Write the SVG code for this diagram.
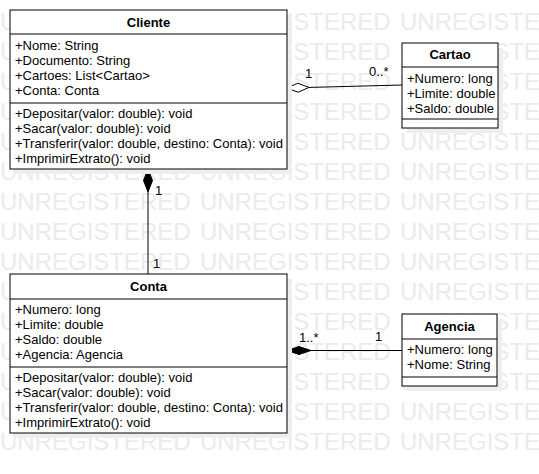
<svg xmlns="http://www.w3.org/2000/svg" width="539" height="474" viewBox="0 0 539 474">
<defs>
<style>
.wm{font-family:"Liberation Sans",Arial,sans-serif;font-size:24px;fill:#ebebeb}
.t{font-family:"Liberation Sans",Arial,sans-serif;font-size:13px;fill:#000}
.h{font-family:"Liberation Sans",Arial,sans-serif;font-size:13px;font-weight:bold;fill:#000;text-anchor:middle}
.box{fill:#fff;stroke:#000;stroke-width:1}
.sh{fill:#eeeeee}
.div{stroke:#000;stroke-width:1}
.ln{stroke:#000;stroke-width:1;fill:none}
</style>
</defs>
<rect width="539" height="474" fill="#fff"/>
<g id="watermark">
<text class="wm" x="0" y="30">UNREGISTERED</text><text class="wm" x="200" y="30">UNREGISTERED</text><text class="wm" x="400" y="30">UNREGISTERED</text>
<text class="wm" x="0" y="60">UNREGISTERED</text><text class="wm" x="200" y="60">UNREGISTERED</text><text class="wm" x="400" y="60">UNREGISTERED</text>
<text class="wm" x="0" y="90">UNREGISTERED</text><text class="wm" x="200" y="90">UNREGISTERED</text><text class="wm" x="400" y="90">UNREGISTERED</text>
<text class="wm" x="0" y="120">UNREGISTERED</text><text class="wm" x="200" y="120">UNREGISTERED</text><text class="wm" x="400" y="120">UNREGISTERED</text>
<text class="wm" x="0" y="150">UNREGISTERED</text><text class="wm" x="200" y="150">UNREGISTERED</text><text class="wm" x="400" y="150">UNREGISTERED</text>
<text class="wm" x="0" y="180">UNREGISTERED</text><text class="wm" x="200" y="180">UNREGISTERED</text><text class="wm" x="400" y="180">UNREGISTERED</text>
<text class="wm" x="0" y="210">UNREGISTERED</text><text class="wm" x="200" y="210">UNREGISTERED</text><text class="wm" x="400" y="210">UNREGISTERED</text>
<text class="wm" x="0" y="240">UNREGISTERED</text><text class="wm" x="200" y="240">UNREGISTERED</text><text class="wm" x="400" y="240">UNREGISTERED</text>
<text class="wm" x="0" y="270">UNREGISTERED</text><text class="wm" x="200" y="270">UNREGISTERED</text><text class="wm" x="400" y="270">UNREGISTERED</text>
<text class="wm" x="0" y="300">UNREGISTERED</text><text class="wm" x="200" y="300">UNREGISTERED</text><text class="wm" x="400" y="300">UNREGISTERED</text>
<text class="wm" x="0" y="330">UNREGISTERED</text><text class="wm" x="200" y="330">UNREGISTERED</text><text class="wm" x="400" y="330">UNREGISTERED</text>
<text class="wm" x="0" y="360">UNREGISTERED</text><text class="wm" x="200" y="360">UNREGISTERED</text><text class="wm" x="400" y="360">UNREGISTERED</text>
<text class="wm" x="0" y="390">UNREGISTERED</text><text class="wm" x="200" y="390">UNREGISTERED</text><text class="wm" x="400" y="390">UNREGISTERED</text>
<text class="wm" x="0" y="420">UNREGISTERED</text><text class="wm" x="200" y="420">UNREGISTERED</text><text class="wm" x="400" y="420">UNREGISTERED</text>
<text class="wm" x="0" y="450">UNREGISTERED</text><text class="wm" x="200" y="450">UNREGISTERED</text><text class="wm" x="400" y="450">UNREGISTERED</text>
</g>
<g id="connectors">
<line class="ln" x1="148" y1="169" x2="148" y2="274"/>
<polygon points="148,169 152.5,180.5 148,192 143.5,180.5" fill="#000" stroke="#000" stroke-width="1"/>
<text class="t" x="155" y="195">1</text>
<text class="t" x="153" y="268">1</text>
<line class="ln" x1="309" y1="87.43" x2="402" y2="85"/>
<polygon points="287,88 297.88,83.21 308.99,87.43 298.11,92.21" fill="#fff" stroke="#000" stroke-width="1"/>
<text class="t" x="305" y="78">1</text>
<text class="t" x="369" y="76">0..*</text>
<line class="ln" x1="311" y1="350.5" x2="402" y2="350.5"/>
<polygon points="287,350.5 299,346.5 311,350.5 299,354.5" fill="#000" stroke="#000" stroke-width="1"/>
<text class="t" x="299" y="342">1..*</text>
<text class="t" x="375" y="341">1</text>
</g>
<g id="Cliente">
<rect class="sh" x="15" y="15" width="277" height="159"/>
<rect class="box" x="10" y="10" width="277" height="159"/>
<line class="div" x1="10" y1="34" x2="287" y2="34"/>
<line class="div" x1="10" y1="103" x2="287" y2="103"/>
<text class="h" x="148.5" y="27">Cliente</text>
<text class="t" x="15" y="49.5">+Nome: String</text>
<text class="t" x="15" y="64.5">+Documento: String</text>
<text class="t" x="15" y="79.5">+Cartoes: List&lt;Cartao&gt;</text>
<text class="t" x="15" y="94.5">+Conta: Conta</text>
<text class="t" x="15" y="117.5">+Depositar(valor: double): void</text>
<text class="t" x="15" y="132.5">+Sacar(valor: double): void</text>
<text class="t" x="15" y="147.5">+Transferir(valor: double, destino: Conta): void</text>
<text class="t" x="15" y="162.5">+ImprimirExtrato(): void</text>
</g>
<g id="Cartao">
<rect class="sh" x="407" y="48" width="96" height="85"/>
<rect class="box" x="402" y="43" width="96" height="85"/>
<line class="div" x1="402" y1="67" x2="498" y2="67"/>
<line class="div" x1="402" y1="119" x2="498" y2="119"/>
<text class="h" x="450" y="59">Cartao</text>
<text class="t" x="407" y="82.5">+Numero: long</text>
<text class="t" x="407" y="97.5">+Limite: double</text>
<text class="t" x="407" y="112.5">+Saldo: double</text>
</g>
<g id="Conta">
<rect class="sh" x="15" y="279" width="277" height="159"/>
<rect class="box" x="10" y="274" width="277" height="159"/>
<line class="div" x1="10" y1="299" x2="287" y2="299"/>
<line class="div" x1="10" y1="367" x2="287" y2="367"/>
<text class="h" x="148.5" y="291">Conta</text>
<text class="t" x="15" y="313.5">+Numero: long</text>
<text class="t" x="15" y="328.5">+Limite: double</text>
<text class="t" x="15" y="343.5">+Saldo: double</text>
<text class="t" x="15" y="358.5">+Agencia: Agencia</text>
<text class="t" x="15" y="382">+Depositar(valor: double): void</text>
<text class="t" x="15" y="397">+Sacar(valor: double): void</text>
<text class="t" x="15" y="412">+Transferir(valor: double, destino: Conta): void</text>
<text class="t" x="15" y="427">+ImprimirExtrato(): void</text>
</g>
<g id="Agencia">
<rect class="sh" x="407" y="319" width="95" height="72"/>
<rect class="box" x="402" y="314" width="95" height="72"/>
<line class="div" x1="402" y1="339" x2="497" y2="339"/>
<line class="div" x1="402" y1="377" x2="497" y2="377"/>
<text class="h" x="449.5" y="331">Agencia</text>
<text class="t" x="407" y="354">+Numero: long</text>
<text class="t" x="407" y="369">+Nome: String</text>
</g>
</svg>
